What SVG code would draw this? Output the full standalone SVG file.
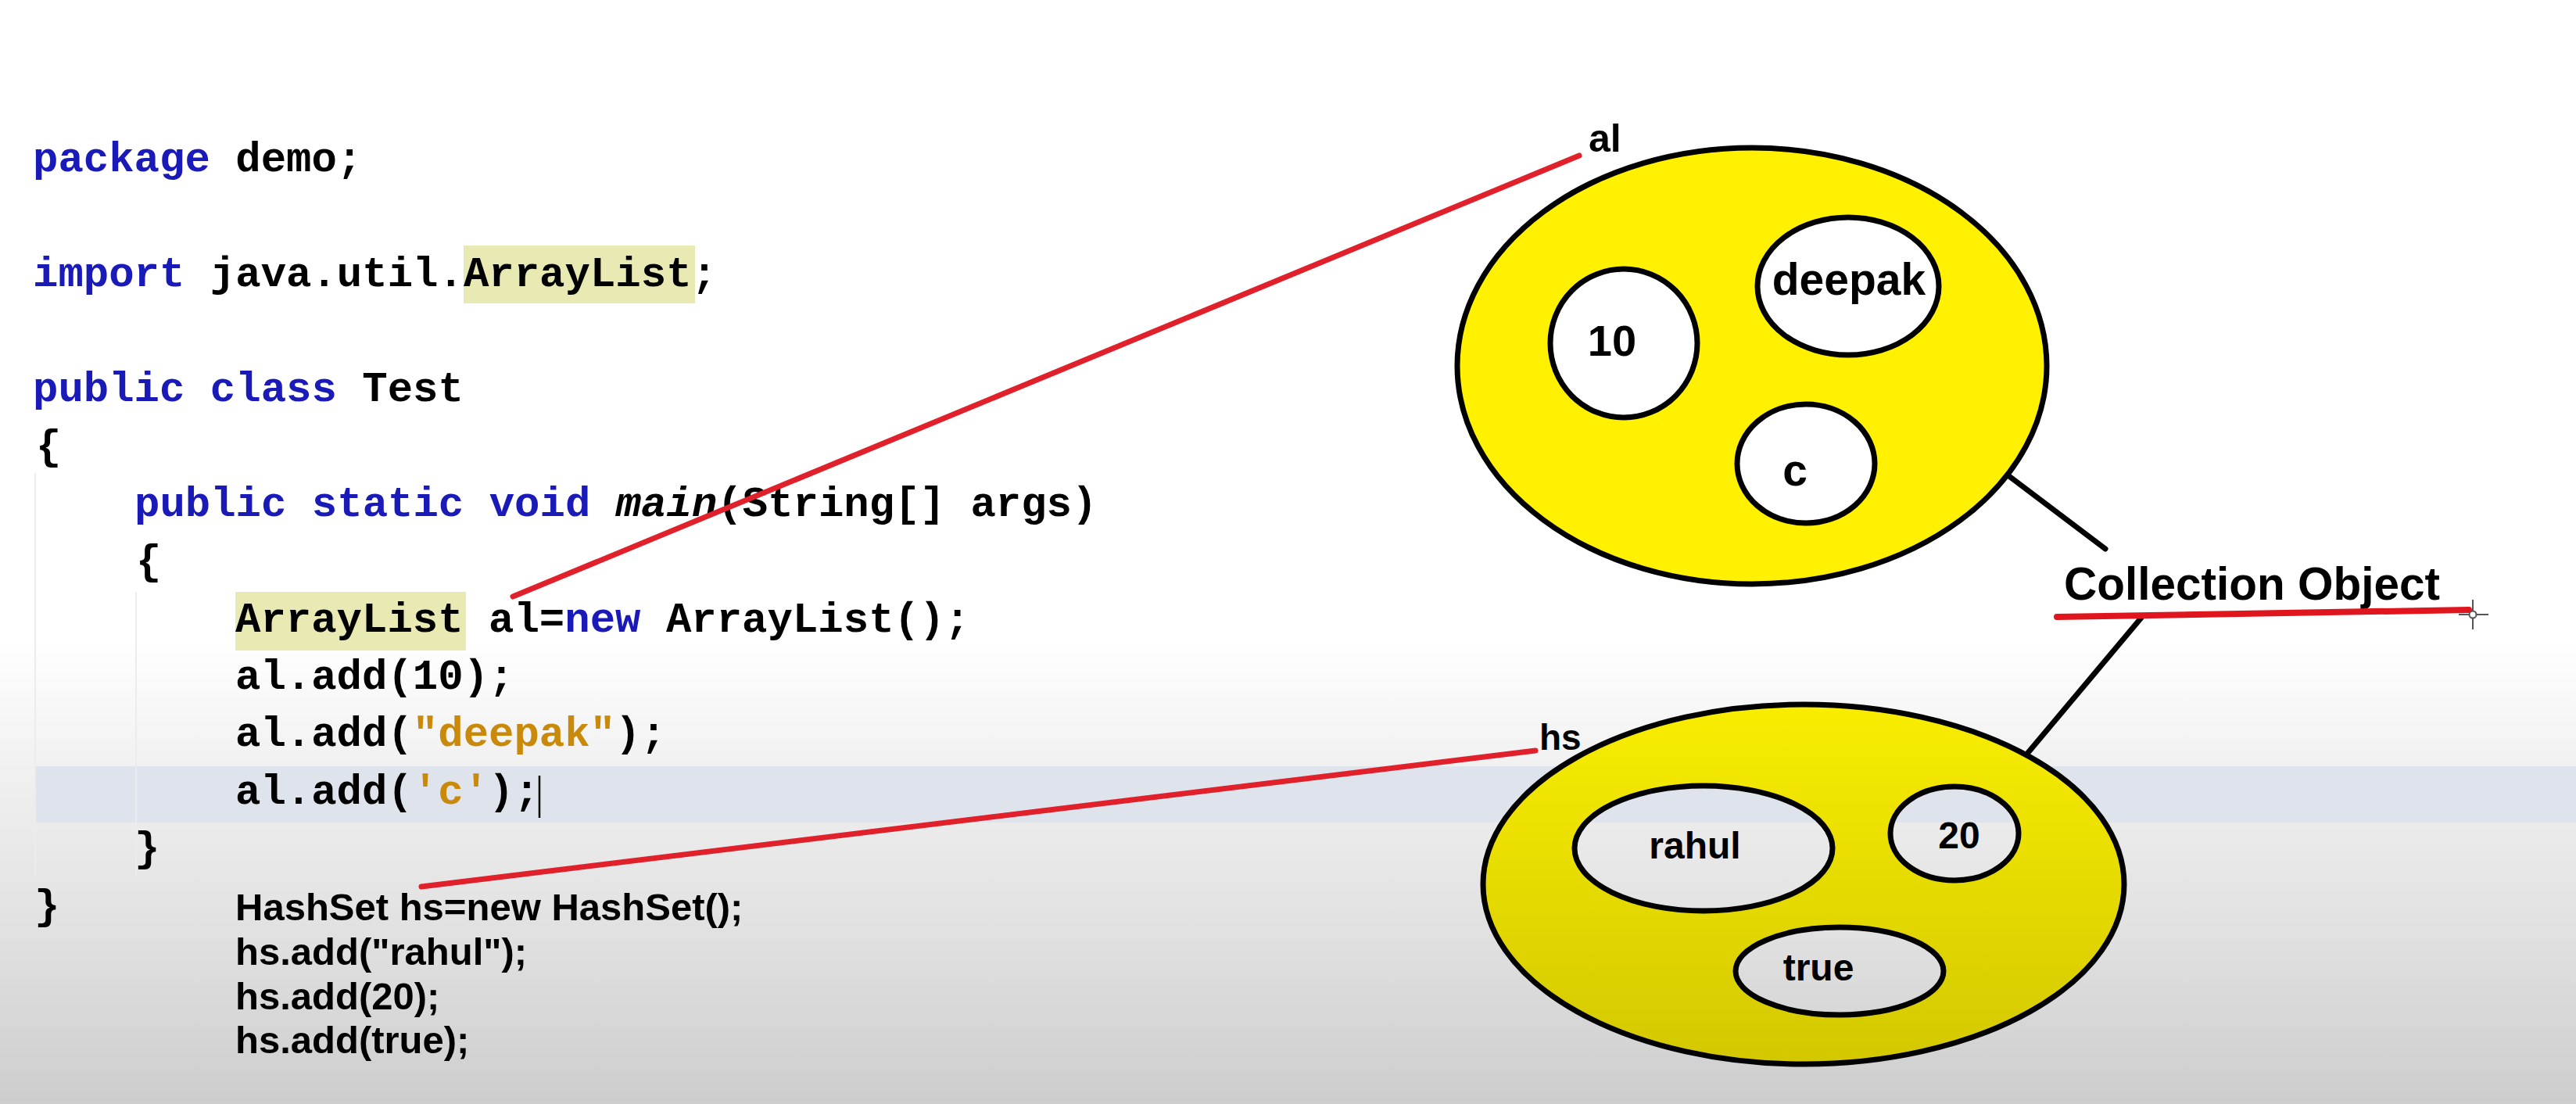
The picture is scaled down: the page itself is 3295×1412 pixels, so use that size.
<svg xmlns="http://www.w3.org/2000/svg" width="3295" height="1412" viewBox="0 0 3295 1412">
<defs>
<linearGradient id="bg" x1="0" y1="0" x2="0" y2="1412" gradientUnits="userSpaceOnUse">
<stop offset="0" stop-color="#ffffff"/>
<stop offset="0.58" stop-color="#ffffff"/>
<stop offset="0.7" stop-color="#f0f0f0"/>
<stop offset="0.85" stop-color="#e0e0e0"/>
<stop offset="1" stop-color="#cdcdcd"/>
</linearGradient>
<linearGradient id="hsy" x1="0" y1="901" x2="0" y2="1361" gradientUnits="userSpaceOnUse">
<stop offset="0" stop-color="#f9ee00"/>
<stop offset="1" stop-color="#d3c800"/>
</linearGradient>
<style>
.code{font-family:"Liberation Mono","Courier New",monospace;font-weight:bold;font-size:54px;fill:#000;white-space:pre}
.kw{fill:#1a1ab8}
.str{fill:#c98a0c}
.it{font-style:italic}
.sans{font-family:"Liberation Sans",Arial,sans-serif;font-weight:bold;fill:#000}
.hl{fill:#e9e9b4}
.ring{fill:none;stroke:#000;stroke-width:7}
.red{stroke:#e0202a;stroke-width:7;stroke-linecap:round;fill:none}
.blk{stroke:#000;stroke-width:7;stroke-linecap:round;fill:none}
.guide{stroke:#ececec;stroke-width:2}
</style>
</defs>
<rect x="0" y="0" width="3295" height="1412" fill="url(#bg)"/>
<rect x="45" y="980" width="3250" height="72" fill="#dfe3ec"/>
<line class="guide" x1="45" y1="605" x2="45" y2="1120"/>
<line class="guide" x1="174" y1="757" x2="174" y2="1120"/>
<g id="code">
<rect class="hl" x="593" y="314" width="296" height="74"/>
<rect class="hl" x="301" y="757" width="295" height="75"/>
<text class="code" x="42" y="219" xml:space="preserve"><tspan class="kw">package</tspan> demo;</text>
<text class="code" x="42" y="366" xml:space="preserve"><tspan class="kw">import</tspan> java.util.ArrayList;</text>
<text class="code" x="42" y="513" xml:space="preserve"><tspan class="kw">public</tspan> <tspan class="kw">class</tspan> Test</text>
<text class="code" x="46" y="587">{</text>
<text class="code" x="172" y="660" xml:space="preserve"><tspan class="kw">public static void</tspan> <tspan class="it">main</tspan>(String[] args)</text>
<text class="code" x="174" y="734">{</text>
<text class="code" x="301" y="808" xml:space="preserve">ArrayList al=<tspan class="kw">new</tspan> ArrayList();</text>
<text class="code" x="301" y="881">al.add(10);</text>
<text class="code" x="301" y="954">al.add(<tspan class="str">"deepak"</tspan>);</text>
<text class="code" x="301" y="1028">al.add(<tspan class="str">'c'</tspan>);</text>
<line x1="690" y1="992" x2="690" y2="1046" stroke="#000" stroke-width="2.5"/>
<text class="code" x="172" y="1101">}</text>
<text class="code" x="44" y="1175">}</text>
<text class="sans" x="301" y="1177" font-size="49" xml:space="preserve">HashSet hs=new HashSet();</text>
<text class="sans" x="301" y="1234" font-size="49">hs.add("rahul");</text>
<text class="sans" x="301" y="1291" font-size="49">hs.add(20);</text>
<text class="sans" x="301" y="1347" font-size="49">hs.add(true);</text>
</g>
<g id="connectors">
<line class="red" x1="656" y1="763" x2="2020" y2="199"/>
<line class="red" x1="539" y1="1134" x2="1964" y2="960"/>
<line class="blk" x1="2546" y1="591" x2="2693" y2="702"/>
<line class="blk" x1="2739" y1="790" x2="2577" y2="983"/>
</g>
<g id="al-object">
<path fill="#fff100" fill-rule="evenodd" d="M1864,468 a377,279 0 1 0 754,0 a377,279 0 1 0 -754,0z M1983,439 a94,95 0 1 0 188,0 a94,95 0 1 0 -188,0z M2248,366 a116,88 0 1 0 232,0 a116,88 0 1 0 -232,0z M2222,593 a88,76 0 1 0 176,0 a88,76 0 1 0 -176,0z"/>
<ellipse class="ring" cx="2241" cy="468" rx="377" ry="279"/>
<g id="al-10"><ellipse class="ring" cx="2077" cy="439" rx="94" ry="95"/><text class="sans" x="2062" y="455" font-size="56" text-anchor="middle">10</text></g>
<g id="al-deepak"><ellipse class="ring" cx="2364" cy="366" rx="116" ry="88"/><text class="sans" x="2365" y="377" font-size="57" text-anchor="middle">deepak</text></g>
<g id="al-c"><ellipse class="ring" cx="2310" cy="593" rx="88" ry="76"/><text class="sans" x="2296" y="621" font-size="57" text-anchor="middle">c</text></g>
<text class="sans" x="2032" y="194" font-size="50">al</text>
</g>
<g id="hs-object">
<path fill="url(#hsy)" fill-rule="evenodd" d="M1897,1131 a410,230 0 1 0 820,0 a410,230 0 1 0 -820,0z M2014,1085 a165,80 0 1 0 330,0 a165,80 0 1 0 -330,0z M2418,1066 a82,60 0 1 0 164,0 a82,60 0 1 0 -164,0z M2220,1242 a133,56 0 1 0 266,0 a133,56 0 1 0 -266,0z"/>
<ellipse class="ring" cx="2307" cy="1131" rx="410" ry="230"/>
<g id="hs-rahul"><ellipse class="ring" cx="2179" cy="1085" rx="165" ry="80"/><text class="sans" x="2168" y="1098" font-size="48" text-anchor="middle">rahul</text></g>
<g id="hs-20"><ellipse class="ring" cx="2500" cy="1066" rx="82" ry="60"/><text class="sans" x="2506" y="1085" font-size="48" text-anchor="middle">20</text></g>
<g id="hs-true"><ellipse class="ring" cx="2353" cy="1242" rx="133" ry="56"/><text class="sans" x="2326" y="1254" font-size="48" text-anchor="middle">true</text></g>
<text class="sans" x="1969" y="959" font-size="46">hs</text>
</g>
<g id="collection-label">
<text class="sans" x="2640" y="767" font-size="58.5">Collection Object</text>
<line x1="2631" y1="789" x2="3158" y2="780" stroke="#e0161e" stroke-width="8" stroke-linecap="round"/>
<g stroke="#555" stroke-width="2" fill="none">
<line x1="3163" y1="767" x2="3163" y2="805"/>
<line x1="3145" y1="786" x2="3183" y2="786"/>
<circle cx="3163" cy="786" r="4.5" fill="#fff"/>
</g>
</g>
</svg>
